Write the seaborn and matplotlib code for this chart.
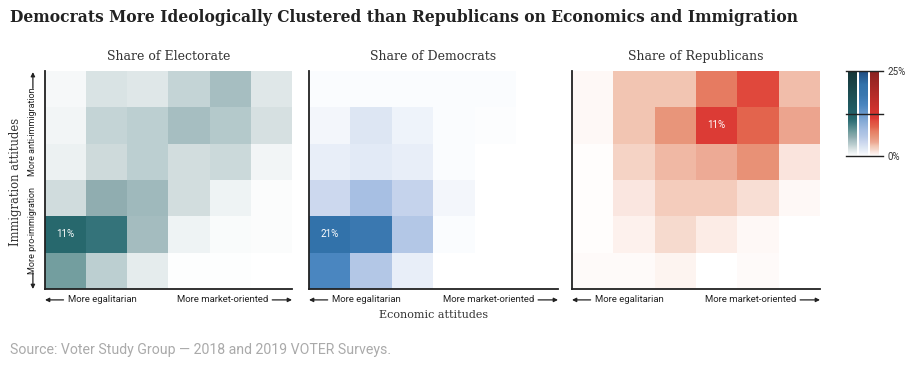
import numpy as np
import pandas as pd
import seaborn as sns
import matplotlib
matplotlib.use("Agg")
import matplotlib.pyplot as plt
from matplotlib.colors import LinearSegmentedColormap

# ---------------- data (percent of group, rows: most anti-immigration -> most pro-immigration,
# columns: most egalitarian -> most market-oriented)
electorate = [
    [0.5, 2.0, 1.7, 3.0, 4.5, 1.7],
    [0.7, 3.0, 3.3, 4.5, 3.8, 2.2],
    [1.0, 2.6, 3.3, 2.4, 2.7, 0.7],
    [2.5, 5.5, 4.8, 2.4, 0.9, 0.2],
    [11.0, 10.0, 4.6, 0.9, 0.3, 0.2],
    [7.0, 3.3, 1.4, 0.1, 0.1, 0.0],
]
democrats = [
    [0.3, 0.3, 0.3, 0.3, 0.3, 0.0],
    [0.8, 2.5, 1.1, 0.3, 0.2, 0.0],
    [1.5, 2.0, 1.5, 0.3, 0.0, 0.0],
    [4.0, 7.5, 4.5, 0.8, 0.0, 0.0],
    [21.0, 18.0, 6.0, 0.3, 0.0, 0.0],
    [15.0, 6.0, 1.5, 0.0, 0.0, 0.0],
]
republicans = [
    [0.3, 3.0, 3.0, 7.5, 10.5, 3.3],
    [0.3, 3.0, 5.5, 11.0, 8.5, 4.3],
    [0.1, 2.2, 3.5, 4.0, 5.8, 1.3],
    [0.1, 1.2, 2.6, 2.6, 1.6, 0.3],
    [0.1, 0.6, 1.8, 0.9, 0.3, 0.0],
    [0.2, 0.2, 0.5, 0.0, 0.2, 0.0],
]
panel_titles = ["Share of Electorate", "Share of Democrats", "Share of Republicans"]
econ_cats = ["1", "2", "3", "4", "5", "6"]
immig_cats = ["6", "5", "4", "3", "2", "1"]
labelled_cells = [(4, 0), (4, 0), (1, 3)]  # (row, col) of the annotated maxima

VMAX = 25.0

teal = LinearSegmentedColormap.from_list("teal", [
    (0, "#ffffff"), (0.04, "#ecf1f2"), (0.1, "#cfdbdc"), (0.13, "#bccfd1"), (0.18, "#a6bec1"),
    (0.22, "#90adb0"), (0.28, "#729e9f"), (0.4, "#34737a"), (0.44, "#27686d"),
    (0.5, "#23626a"), (1, "#163638")])
blue = LinearSegmentedColormap.from_list("blue", [
    (0, "#ffffff"), (0.06, "#e8eef8"), (0.1, "#dce6f3"), (0.16, "#cbd7ee"), (0.24, "#b3c7e6"),
    (0.3, "#a7bfe3"), (0.6, "#4a86c0"), (0.72, "#3a78b0"), (0.84, "#3273ab"), (1, "#1f4c80")])
red = LinearSegmentedColormap.from_list("red", [
    (0, "#ffffff"), (0.024, "#fdf1ed"), (0.048, "#fae6df"), (0.072, "#f6d9cd"),
    (0.12, "#f2c4b1"), (0.16, "#eda893"), (0.22, "#e8957a"), (0.3, "#e67a60"),
    (0.34, "#e3644d"), (0.42, "#e0483c"), (0.44, "#dc3a35"), (0.5, "#d63530"), (1, "#8a2220")])
cmaps = [teal, blue, red]

W, H = 920, 366
fig = plt.figure(figsize=(W / 100, H / 100), dpi=100)

SANS = ["Roboto", "DejaVu Sans"]
SERIF = ["DejaVu Serif"]

def fx(px):
    return px / W

def fy(py):
    return 1 - py / H

ax_top, ax_bot = 71, 289
lefts = [45, 309, 572]
widths = [247, 249, 248]

arrow_kw = dict(arrowstyle="-|>", color="#222222", lw=0.9, mutation_scale=6, shrinkA=0, shrinkB=0)

for i, (data, cmap, title) in enumerate(zip([electorate, democrats, republicans], cmaps, panel_titles)):
    ax = fig.add_axes([fx(lefts[i]), fy(ax_bot), widths[i] / W, (ax_bot - ax_top) / H])
    df = pd.DataFrame(data, index=immig_cats, columns=econ_cats)
    labels = np.full(df.shape, "", dtype=object)
    r, c = labelled_cells[i]
    labels[r, c] = f"{df.iloc[r, c]:.0f}%"
    sns.heatmap(df, ax=ax, cmap=cmap, vmin=0, vmax=VMAX, cbar=False, annot=labels, fmt="",
                annot_kws={"color": "white", "fontsize": 7, "family": SANS},
                linewidths=0, square=False)
    ax.set_xticks([])
    ax.set_yticks([])
    ax.set_xlabel("")
    ax.set_ylabel("")
    for s in ["left", "bottom"]:
        ax.spines[s].set_visible(True)
        ax.spines[s].set_color("#222222")
        ax.spines[s].set_linewidth(1.3)
    ax.set_title(title, fontsize=9, family=SERIF, color="#333333", pad=8)

    # x-axis direction labels
    ax.annotate("", xy=(0.0, -0.05), xytext=(0.075, -0.05), xycoords="axes fraction",
                arrowprops=arrow_kw, annotation_clip=False)
    ax.text(0.093, -0.05, "More egalitarian", transform=ax.transAxes, ha="left", va="center",
            fontsize=6.8, family=SANS, color="#222222")
    ax.annotate("", xy=(1.0, -0.05), xytext=(0.92, -0.05), xycoords="axes fraction",
                arrowprops=arrow_kw, annotation_clip=False)
    ax.text(0.905, -0.05, "More market-oriented", transform=ax.transAxes, ha="right", va="center",
            fontsize=6.8, family=SANS, color="#222222")

    if i == 0:
        xa = -0.049
        ax.annotate("", xy=(xa, 0.995), xytext=(xa, 0.92), xycoords="axes fraction",
                    arrowprops=arrow_kw, annotation_clip=False)
        ax.text(xa, 0.72, "More anti-immigration", transform=ax.transAxes, rotation=90,
                ha="center", va="center", fontsize=6.5, family=SANS, color="#222222")
        ax.text(xa, 0.27, "More pro-immigration", transform=ax.transAxes, rotation=90,
                ha="center", va="center", fontsize=6.5, family=SANS, color="#222222")
        ax.annotate("", xy=(xa, 0.0), xytext=(xa, 0.075), xycoords="axes fraction",
                    arrowprops=arrow_kw, annotation_clip=False)

# axis titles
fig.text(fx(16), fy(182), "Immigration attitudes", rotation=90, ha="center", va="center",
         fontsize=8.3, family=SERIF, color="#333333")
fig.text(fx(434), fy(315), "Economic attitudes", ha="center", va="center",
         fontsize=8, family=SERIF, color="#333333")

# legend colour ramps
cb_top, cb_bot = 71, 156
strip_x = [848, 859, 870]
grad = np.linspace(0, VMAX, 256).reshape(-1, 1)
for x0, cmap in zip(strip_x, cmaps):
    cax = fig.add_axes([fx(x0), fy(cb_bot), 9 / W, (cb_bot - cb_top) / H])
    cax.imshow(grad, aspect="auto", cmap=cmap, vmin=0, vmax=VMAX, origin="lower",
               extent=[0, 1, 0, VMAX])
    cax.set_axis_off()
lax = fig.add_axes([fx(846), fy(cb_bot), 37 / W, (cb_bot - cb_top) / H])
lax.set_xlim(0, 1)
lax.set_ylim(0, VMAX)
lax.patch.set_alpha(0)
for v in [0, VMAX / 2, VMAX]:
    lax.axhline(v, color="#222222", lw=1, clip_on=False)
lax.set_xticks([])
lax.yaxis.tick_right()
lax.set_yticks([0, VMAX])
lax.set_yticklabels(["0%", "25%"], fontsize=7, family=SANS, color="#333333")
lax.tick_params(axis="y", length=0, pad=3)
for s in lax.spines.values():
    s.set_visible(False)

# title and source
fig.text(fx(10), fy(17), "Democrats More Ideologically Clustered than Republicans on Economics and Immigration",
         ha="left", va="center", fontsize=11.2, fontweight="bold", family=SERIF, color="#222222")
fig.text(fx(10), fy(350), "Source: Voter Study Group \u2014 2018 and 2019 VOTER Surveys.",
         ha="left", va="center", fontsize=10.2, family=SANS, color="#aaaaaa")

fig.savefig("out.png", dpi=100)
